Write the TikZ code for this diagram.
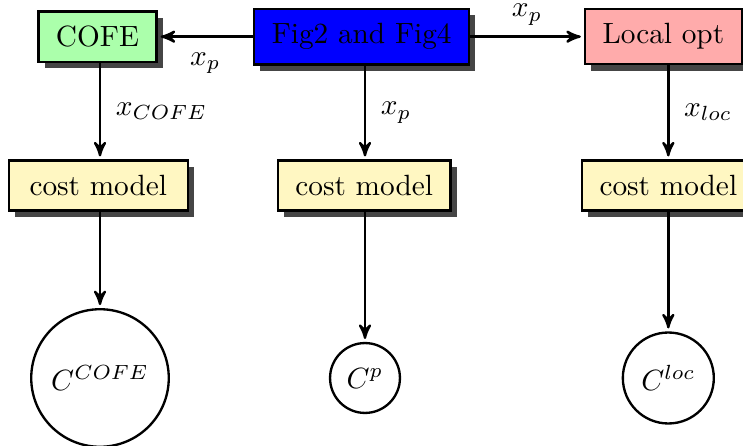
\documentclass[tikz,border=0pt]{standalone}
\usepackage{amsmath,amssymb}
\usetikzlibrary{arrows,shadows}
\definecolor{cgreen}{rgb}{0.67, 1, 0.67}
\definecolor{cpink}{rgb}{1, 0.67, 0.67}
\definecolor{cyellow}{rgb}{1, 0.97, 0.76}
\begin{document}
\begin{tikzpicture}[-,>=stealth',shorten >=1pt,auto,
  thick,inner sep=5pt,
  box node/.style={rectangle,draw,inner xsep=6pt,inner ysep=5pt,
    drop shadow={fill=black!73,opacity=1}},
  cost node/.style={box node,fill=cyellow},
  res node/.style={circle,draw,inner sep=4pt}]
  \useasboundingbox (0,0) rectangle (8.916,-5.352);
  \node[box node,fill=cgreen] (cofe) at (1.17,-0.44) {COFE};
  \node[box node,fill=blue] (fig) at (4.34,-0.44) {Fig2 and Fig4};
  \node[box node,fill=cpink] (local) at (7.96,-0.44) {Local opt};
  \node[cost node,minimum width=2.15cm] (cm1) at (1.18,-2.226) {cost model};
  \node[cost node] (cm2) at (4.37,-2.226) {cost model};
  \node[cost node] (cm3) at (8.02,-2.226) {cost model};
  \node[res node,inner sep=5pt] (c1) at (1.20,-4.536) {$C^{COFE}$};
  \node[res node,inner sep=3.5pt] (c2) at (4.38,-4.536) {$C^{p}$};
  \node[res node] (c3) at (8.02,-4.536) {$C^{loc}$};

  \path[->]
    (fig) edge node {$x_p$} (cofe)
    (fig) edge node[inner sep=3.5pt] {$x_p$} (local);
  \path[->]
    (c1 |- cofe.south) edge node {$x_{COFE}$} (c1 |- cm1.north)
    (c2 |- fig.south) edge node {$x_p$} (c2 |- cm2.north)
    (c3 |- local.south) edge node {$x_{loc}$} (c3 |- cm3.north)
    (c1 |- cm1.south) edge (c1)
    (c2 |- cm2.south) edge (c2)
    (c3 |- cm3.south) edge (c3);
\end{tikzpicture}
\end{document}
